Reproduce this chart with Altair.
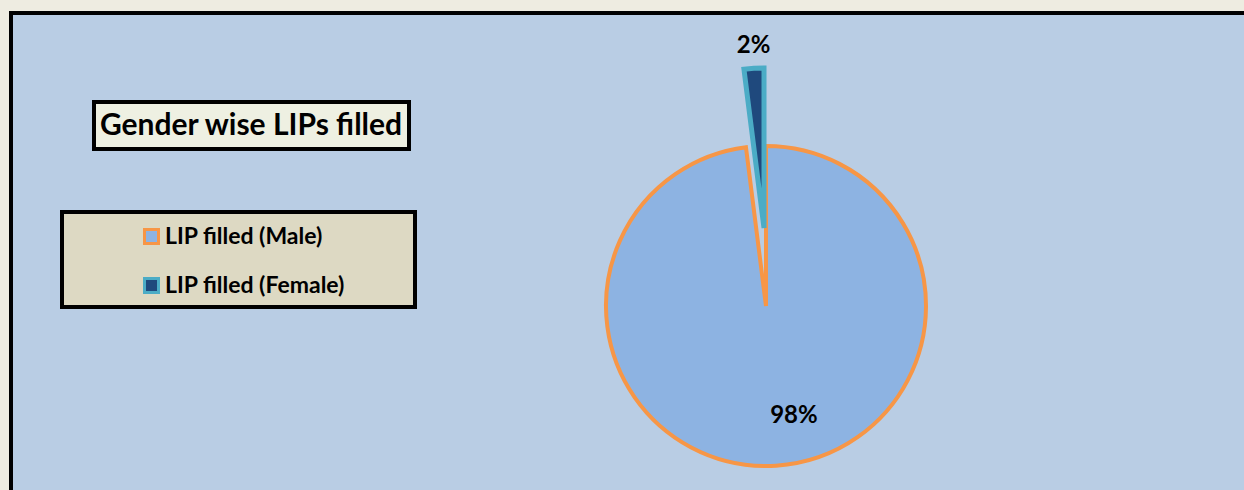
import altair as alt
import pandas as pd

# ---- data ----
categories = ["LIP filled (Male)", "LIP filled (Female)"]
values = [98, 2]
labels = ["98%", "2%"]
order = [1, 2]
title_text = "Gender wise LIPs filled"

fill_range = ["#8db3e2", "#1f497d"]
stroke_range = ["#f79646", "#4bacc6"]

FONT = "Lato"
W, H = 1244, 490
CX, CY, R = 766, 306, 160

df = pd.DataFrame({"category": categories, "value": values, "label": labels, "order": order})
deco = pd.DataFrame({"t": [title_text]})

base = (
    alt.Chart(df)
    .transform_window(cum="sum(value)", sort=[alt.SortField("order")])
    .transform_joinaggregate(total="sum(value)")
    .transform_calculate(
        t0="2*PI*(datum.cum-datum.value)/datum.total",
        t1="2*PI*datum.cum/datum.total",
        tm="PI*(2*datum.cum-datum.value)/datum.total",
    )
)

legend = alt.Legend(
    title=None, orient="none", legendX=140, legendY=225,
    symbolType="square", symbolSize=196, symbolStrokeWidth=3,
    labelFont=FONT, labelFontSize=23, labelFontWeight="bold", labelColor="black",
    labelLimit=400, rowPadding=22, labelOffset=2, padding=0,
)
fill = alt.Fill("category:N", scale=alt.Scale(domain=categories, range=fill_range), legend=legend)
stroke = alt.Stroke("category:N", scale=alt.Scale(domain=categories, range=stroke_range), legend=legend)

panel = alt.Chart(deco).mark_rect(fill="#b9cde4", stroke="black", strokeWidth=4).encode(
    x=alt.value(11), x2=alt.value(W + 20), y=alt.value(13), y2=alt.value(H + 20)
)
title_box = alt.Chart(deco).mark_rect(fill="#eef0e2", stroke="black", strokeWidth=4).encode(
    x=alt.value(94), x2=alt.value(409), y=alt.value(102), y2=alt.value(149)
)
title = alt.Chart(deco).mark_text(
    font=FONT, fontSize=30, fontWeight="bold", color="black", align="center", baseline="middle"
).encode(x=alt.value(251), y=alt.value(126), text="t:N")
legend_box = alt.Chart(deco).mark_rect(fill="#ddd9c3", stroke="black", strokeWidth=4).encode(
    x=alt.value(62), x2=alt.value(415), y=alt.value(212), y2=alt.value(307)
)

male = base.transform_filter(alt.datum.category == categories[0]).mark_arc(
    radius=R, strokeWidth=4
).encode(
    theta=alt.Theta("t0:Q", scale=None), theta2=alt.Theta2("t1:Q"),
    fill=fill, stroke=stroke, x=alt.value(CX), y=alt.value(CY),
)
female = base.transform_filter(alt.datum.category == categories[1]).mark_arc(
    radius=R, strokeWidth=5, xOffset=-2, yOffset=-78
).encode(
    theta=alt.Theta("t0:Q", scale=None), theta2=alt.Theta2("t1:Q"),
    fill=fill, stroke=stroke, x=alt.value(CX), y=alt.value(CY),
)

male_label = base.transform_filter(alt.datum.category == categories[0]).mark_text(
    font=FONT, fontSize=24, fontWeight="bold", color="black", radius=110, dx=21,
    align="center", baseline="middle",
).encode(theta=alt.Theta("tm:Q", scale=None), text="label:N", x=alt.value(CX), y=alt.value(CY))
female_label = base.transform_filter(alt.datum.category == categories[1]).mark_text(
    font=FONT, fontSize=24, fontWeight="bold", color="black", radius=182, dx=4,
    xOffset=-5, yOffset=-78, align="center", baseline="middle",
).encode(theta=alt.Theta("tm:Q", scale=None), text="label:N", x=alt.value(CX), y=alt.value(CY))

chart = (
    alt.layer(panel, title_box, title, legend_box, male, female, male_label, female_label)
    .properties(width=W, height=H, padding=0, autosize=alt.AutoSizeParams(type="none"), background="#eeece1")
    .configure_view(strokeWidth=0)
)

chart.save("out.html", embed_options={"renderer": "svg", "actions": False})
